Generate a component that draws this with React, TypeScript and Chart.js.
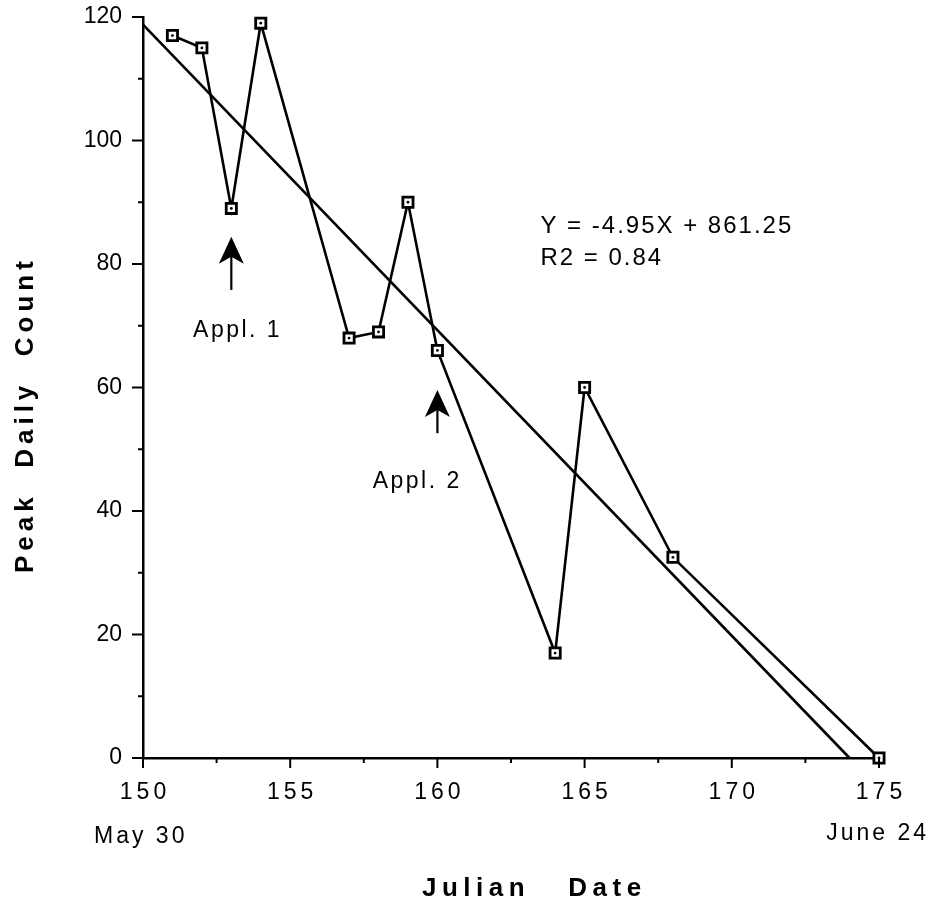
import React, { useEffect, useRef } from 'react';
import { Chart, registerables } from 'chart.js';

Chart.register(...registerables);

// ---- data ----
const julianDays = [151, 152, 153, 154, 157, 158, 159, 160, 164, 165, 168, 175];
const peakCounts = [117, 115, 89, 119, 68, 69, 90, 66, 17, 60, 32.5, 0];
// fitted line: Y = -4.95X + 861.25, drawn from x = 150 to where it meets 0
const regressionX = [150, 174];
const regressionY = [118.75, 0];

const xMin = 150;
const xMax = 175;
const yMin = 0;
const yMax = 120;
const xMajorStep = 5;
const xMinorStep = 2.5;
const yMajorStep = 20;
const yMinorStep = 10;

const equationLines = ['Y = -4.95X + 861.25', 'R2 = 0.84'];
const applicationLabels = ['Appl. 1', 'Appl. 2'];
const applicationDays = [153, 160];
const dateNotes = ['May 30', 'June 24'];
const xTitle = 'Julian   Date';
const yTitle = 'Peak  Daily  Count';

// ---- layout / style (pixels) ----
const FONT = "'Liberation Sans', Arial, Helvetica, sans-serif";
const W = 931;
const H = 905;
const arrowLayout = [
  { tipY: 84.4, tailY: 75.8 },
  { tipY: 59.6, tailY: 52.6 },
];
const applLabelLayout = [
  { x: 151.7, y: 68.2 },
  { x: 157.8, y: 43.7 },
];
const equationLayout = { x: 163.5, y: [85.0, 79.8] };

const decorPlugin = {
  id: 'decor',
  afterDatasetsDraw(chart: any) {
    const ctx = chart.ctx;
    const meta = chart.getDatasetMeta(0);
    ctx.save();
    ctx.fillStyle = '#000';
    meta.data.forEach((p: any) => {
      ctx.beginPath();
      ctx.arc(p.x, p.y, 1.4, 0, Math.PI * 2);
      ctx.fill();
    });
    ctx.restore();
  },
  afterDraw(chart: any) {
    const ctx = chart.ctx;
    const xs = chart.scales.x;
    const ys = chart.scales.y;
    const area = chart.chartArea;
    ctx.save();
    ctx.strokeStyle = '#000';
    ctx.fillStyle = '#000';
    ctx.lineWidth = 2;

    // y ticks (major + minor)
    for (let v = yMin; v <= yMax; v += yMinorStep) {
      const py = ys.getPixelForValue(v);
      const len = v % yMajorStep === 0 ? 11 : 5;
      ctx.beginPath();
      ctx.moveTo(area.left - len, py);
      ctx.lineTo(area.left, py);
      ctx.stroke();
    }
    // x ticks (major + minor)
    for (let v = xMin; v <= xMax; v += xMinorStep) {
      const px = xs.getPixelForValue(v);
      const len = v % xMajorStep === 0 ? 10 : 5;
      ctx.beginPath();
      ctx.moveTo(px, area.bottom);
      ctx.lineTo(px, area.bottom + len);
      ctx.stroke();
    }

    // x tick labels (letter-spaced)
    ctx.font = `23px ${FONT}`;
    (ctx as any).letterSpacing = '4px';
    ctx.textAlign = 'center';
    ctx.textBaseline = 'alphabetic';
    xs.ticks.forEach((t: any) => {
      const px = xs.getPixelForValue(t.value);
      ctx.fillText(String(t.value), px + 2, area.bottom + 41);
    });

    // date notes
    (ctx as any).letterSpacing = '3px';
    ctx.textAlign = 'left';
    ctx.fillText(dateNotes[0], xs.getPixelForValue(xMin) - 49, area.bottom + 85);
    ctx.textAlign = 'right';
    ctx.fillText(dateNotes[1], xs.getPixelForValue(xMax) + 50, area.bottom + 82);

    // equation
    (ctx as any).letterSpacing = '2px';
    ctx.font = `24px ${FONT}`;
    ctx.textAlign = 'left';
    equationLines.forEach((line, i) => {
      ctx.fillText(line, xs.getPixelForValue(equationLayout.x), ys.getPixelForValue(equationLayout.y[i]));
    });

    // application labels
    ctx.font = `23px ${FONT}`;
    (ctx as any).letterSpacing = '2.5px';
    applicationLabels.forEach((lab, i) => {
      ctx.fillText(lab, xs.getPixelForValue(applLabelLayout[i].x), ys.getPixelForValue(applLabelLayout[i].y));
    });

    // arrows
    (ctx as any).letterSpacing = '0px';
    applicationDays.forEach((d, i) => {
      const px = xs.getPixelForValue(d);
      const tip = ys.getPixelForValue(arrowLayout[i].tipY);
      const tail = ys.getPixelForValue(arrowLayout[i].tailY);
      ctx.lineWidth = 2.2;
      ctx.beginPath();
      ctx.moveTo(px, tail);
      ctx.lineTo(px, tip + 18);
      ctx.stroke();
      ctx.beginPath();
      ctx.moveTo(px, tip);
      ctx.lineTo(px - 12.5, tip + 27);
      ctx.lineTo(px, tip + 20);
      ctx.lineTo(px + 12.5, tip + 27);
      ctx.closePath();
      ctx.fill();
    });

    // axis titles
    ctx.font = `bold 26px ${FONT}`;
    (ctx as any).letterSpacing = '5.5px';
    ctx.textAlign = 'left';
    ctx.fillText(xTitle, 422, 896);

    ctx.save();
    (ctx as any).letterSpacing = '5px';
    ctx.translate(33, 573);
    ctx.rotate(-Math.PI / 2);
    ctx.fillText(yTitle, 0, 0);
    ctx.restore();

    ctx.restore();
  },
};

export default function App() {
  const canvasRef = useRef<HTMLCanvasElement | null>(null);

  useEffect(() => {
    const canvas = canvasRef.current;
    if (!canvas) return;
    const chart = new Chart(canvas, {
      type: 'line',
      data: {
        datasets: [
          {
            label: 'Peak daily count',
            data: julianDays.map((d, i) => ({ x: d, y: peakCounts[i] })),
            borderColor: '#000',
            borderWidth: 2.6,
            pointStyle: 'rect',
            pointRadius: 7.2,
            pointBorderWidth: 2.8,
            pointBackgroundColor: '#fff',
            pointBorderColor: '#000',
            tension: 0,
            clip: false as any,
          },
          {
            label: 'Regression',
            data: regressionX.map((d, i) => ({ x: d, y: regressionY[i] })),
            borderColor: '#000',
            borderWidth: 2.6,
            pointRadius: 0,
            tension: 0,
            clip: false as any,
          },
        ],
      },
      options: {
        animation: false,
        responsive: false,
        devicePixelRatio: 1,
        layout: { padding: { left: 0, top: 17, right: 52, bottom: 0 } },
        plugins: { legend: { display: false }, tooltip: { enabled: false } },
        scales: {
          x: {
            type: 'linear',
            min: xMin,
            max: xMax,
            ticks: { display: false, stepSize: xMajorStep, padding: 0 },
            grid: { display: false, drawTicks: false },
            border: { display: true, color: '#000', width: 2.5 },
            afterFit: (s: any) => {
              s.height = H - 758;
            },
          },
          y: {
            type: 'linear',
            min: yMin,
            max: yMax,
            ticks: {
              stepSize: yMajorStep,
              padding: 0,
              color: '#000',
              font: { family: FONT, size: 23 },
            },
            grid: { display: false, drawTicks: true, tickLength: 21, tickColor: 'rgba(0,0,0,0)' },
            border: { display: true, color: '#000', width: 2.5 },
            afterFit: (s: any) => {
              s.width = 143;
            },
          },
        },
      },
      plugins: [decorPlugin],
    });
    return () => chart.destroy();
  }, []);

  return (
    <div style={{ position: 'absolute', left: 0, top: 0, width: W, height: H, background: '#fff' }}>
      <canvas ref={canvasRef} width={W} height={H} style={{ display: 'block', width: W, height: H }} />
    </div>
  );
}
